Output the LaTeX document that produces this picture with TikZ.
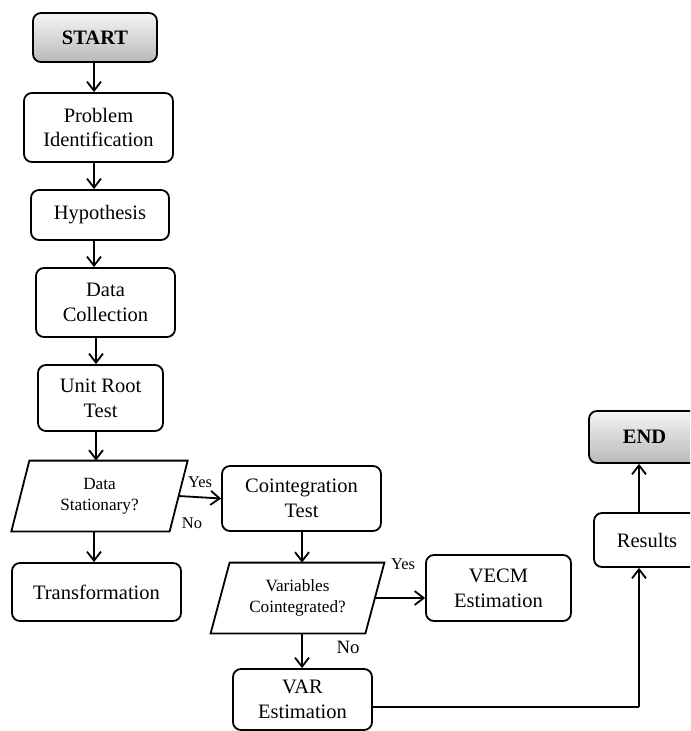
\documentclass[tikz,border=0pt]{standalone}
\usepackage{fontspec}
\setmainfont{Liberation Serif}
\usetikzlibrary{arrows.meta,shadings}
\begin{document}
\begin{tikzpicture}[x=0.5pt,y=-0.5pt,
  box/.style={draw,line width=0.9pt,rounded corners=4pt,align=center,inner sep=0pt,
    font=\fontsize{10.25}{12.4}\selectfont},
  term/.style={box,top color=gray!8,bottom color=gray!55,
    font=\fontsize{10.25}{12.4}\selectfont\bfseries},
  dec/.style={align=center,inner sep=0pt,font=\fontsize{8.6}{10.6}\selectfont},
  lbl/.style={inner sep=0pt,font=\fontsize{8.2}{9}\selectfont},
  arr/.style={line width=0.9pt,-{Straight Barb[length=4.5pt,width=7pt]}},
  ln/.style={line width=0.9pt}]
\useasboundingbox (0,0) rectangle (690,731);
\clip (0,0) rectangle (690,731);
% nodes
\node[term,minimum width=62pt,minimum height=24.5pt] (start) at (95,37.5) {START};
\node[box,minimum width=74.5pt,minimum height=34.5pt] (prob) at (98.5,127.5) {Problem\\Identification};
\node[box,minimum width=69pt,minimum height=25pt] (hyp) at (100,215) {Hypothesis};
\node[box,minimum width=69.5pt,minimum height=34.5pt] (dc) at (105.5,302.5) {Data\\Collection};
\node[box,minimum width=62.5pt,minimum height=33pt] (urt) at (100.5,398) {Unit Root\\Test};
\node[dec,minimum width=78.75pt,minimum height=35pt] (ds) at (99.5,496) {Data\\Stationary?};
\draw[ln] ([xshift=4.5pt]ds.north west) -- ([xshift=4.5pt]ds.north east)
  -- ([xshift=-4.5pt]ds.south east) -- ([xshift=-4.5pt]ds.south west) -- cycle;
\node[box,minimum width=84.5pt,minimum height=29pt] (tr) at (96.5,592) {Transformation};
\node[box,minimum width=79.5pt,minimum height=32.5pt] (ct) at (301.5,498.5) {Cointegration\\Test};
\node[dec,minimum width=77pt,minimum height=35pt] (vc) at (297.5,598) {Variables\\Cointegrated?};
\draw[ln] ([xshift=4.75pt]vc.north west) -- ([xshift=4.75pt]vc.north east)
  -- ([xshift=-4.75pt]vc.south east) -- ([xshift=-4.75pt]vc.south west) -- cycle;
\node[box,minimum width=72.5pt,minimum height=33pt] (vecm) at (498.5,588) {VECM\\Estimation};
\node[box,minimum width=69.5pt,minimum height=30.5pt] (var) at (302.5,699.5) {VAR\\Estimation};
\node[box,minimum width=53pt,minimum height=27pt] (res) at (647,540) {Results};
\node[term,minimum width=55.5pt,minimum height=26pt] (end) at (644.5,437) {END};
% helper coordinates
\coordinate (c1) at (94,0);
\coordinate (c2) at (96,0);
\coordinate (c3) at (302,0);
\coordinate (corner) at (639,707);
% connectors
\draw[arr] (start.south -| c1) -- (prob.north -| c1);
\draw[arr] (prob.south -| c1) -- (hyp.north -| c1);
\draw[arr] (hyp.south -| c1) -- (dc.north -| c1);
\draw[arr] (dc.south -| c2) -- (urt.north -| c2);
\draw[arr] (urt.south -| c2) -- (ds.north -| c2);
\draw[arr] (ds.south -| c1) -- (tr.north -| c1);
\draw[arr] (ds.east) -- (ct.west);
\draw[arr] (ct.south -| c3) -- (vc.north -| c3);
\draw[arr] (vc.east) -- (vecm.west |- vc.east);
\draw[arr] (vc.south -| c3) -- (var.north -| c3);
\draw[ln] (var.east |- corner) -- (corner);
\draw[arr] (corner) -- (corner |- res.south);
\draw[arr] (res.north -| corner) -- (end.south -| corner);
% labels
\node[lbl] (yes1) at (200,482) {Yes};
\node[lbl] (no1) at (192,523) {No};
\node[lbl] (yes2) at (403,564) {Yes};
\node[lbl,font=\fontsize{9.4}{10}\selectfont] (no2) at (348,647) {No};
\end{tikzpicture}
\end{document}
